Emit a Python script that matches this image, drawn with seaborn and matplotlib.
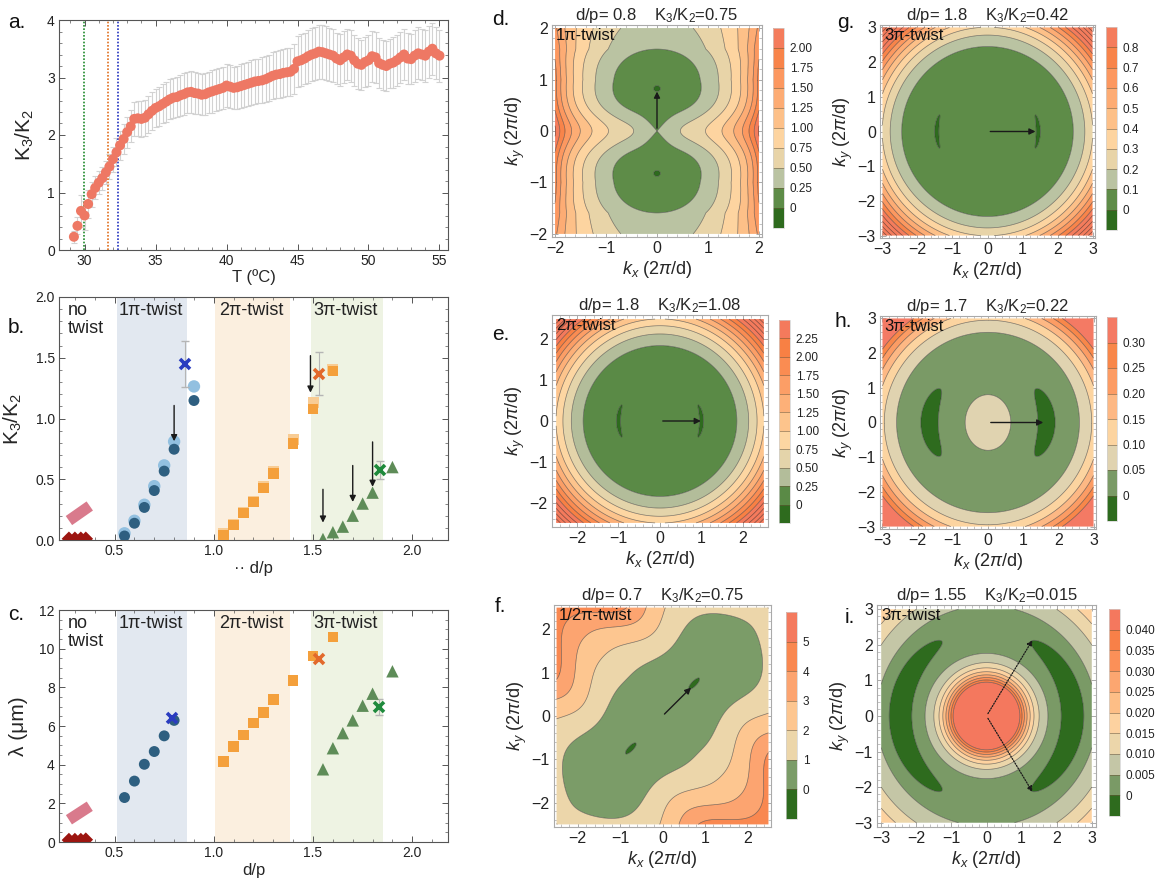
import numpy as np
import matplotlib
matplotlib.use("Agg")
import matplotlib.pyplot as plt
import seaborn as sns
from matplotlib.colors import ListedColormap, BoundaryNorm
from matplotlib.cm import ScalarMappable
from matplotlib.ticker import MultipleLocator, FuncFormatter

# ---------------- panel a : K3/K2 against temperature ----------------
T_first, T_step = 29.25, 0.25
k32_T = [0.23, 0.42, 0.68, 0.60,
         0.80, 0.97, 1.08, 1.17,
         1.25, 1.35, 1.45, 1.58,
         1.70, 1.82, 1.93, 2.05,
         2.15, 2.28, 2.29, 2.28,
         2.30, 2.36, 2.42, 2.47,
         2.50, 2.54, 2.58, 2.62,
         2.65, 2.66, 2.69, 2.71,
         2.74, 2.75, 2.73, 2.72,
         2.70, 2.71, 2.74, 2.76,
         2.78, 2.80, 2.82, 2.86,
         2.84, 2.82, 2.83, 2.85,
         2.87, 2.89, 2.91, 2.93,
         2.94, 2.95, 2.97, 3.00,
         3.03, 3.05, 3.06, 3.08,
         3.09, 3.10, 3.15, 3.28,
         3.30, 3.33, 3.37, 3.40,
         3.42, 3.45, 3.44, 3.42,
         3.40, 3.38, 3.33, 3.30,
         3.35, 3.40, 3.38, 3.30,
         3.24, 3.22, 3.27, 3.30,
         3.37, 3.35, 3.25, 3.22,
         3.20, 3.24, 3.26, 3.30,
         3.35, 3.40, 3.33, 3.32,
         3.38, 3.42, 3.40, 3.38,
         3.45, 3.50, 3.42, 3.38]
k32_T_err = [0.10, 0.15, 0.28, 0.25,
             0.25, 0.22, 0.20, 0.20,
             0.20, 0.20, 0.22, 0.22, 0.24, 0.25, 0.26, 0.27,
             0.28, 0.30, 0.30, 0.31, 0.31, 0.32, 0.33, 0.33,
             0.34, 0.34, 0.35, 0.35, 0.35, 0.35, 0.36, 0.36, 0.36, 0.36,
             0.36, 0.36, 0.36, 0.36, 0.36, 0.37, 0.37, 0.37, 0.37, 0.37,
             0.37, 0.37, 0.37, 0.38, 0.38, 0.38, 0.39, 0.39, 0.39, 0.40,
             0.40, 0.40, 0.41, 0.41, 0.41, 0.42, 0.42, 0.42, 0.43, 0.44,
             0.45, 0.45, 0.46, 0.46, 0.46, 0.47, 0.47, 0.47, 0.46, 0.46,
             0.45, 0.45, 0.45, 0.45, 0.45, 0.44, 0.44, 0.44, 0.44, 0.44,
             0.44, 0.44, 0.43, 0.43, 0.43, 0.43, 0.44, 0.44, 0.44, 0.44,
             0.44, 0.44, 0.45, 0.45, 0.45, 0.45, 0.45, 0.45, 0.45, 0.45]
vline_T = [29.95, 31.67, 32.37]
vline_colors = ["#1f8a2c", "#e0701e", "#2233c0"]

# ---------------- panels b, c : against d/p ----------------
band_spans = [(0.51, 0.865), (1.005, 1.385), (1.49, 1.85)]
band_colors = ["#e2e8f0", "#fbefdf", "#eef3e3"]
band_names = ["1\u03c0-twist", "2\u03c0-twist", "3\u03c0-twist"]
band_name_x = [0.685, 1.19, 1.665]

notwist_dp = [0.27, 0.30, 0.33, 0.355]
notwist_k = [0.01, 0.01, 0.01, 0.01]
notwist_lam = [0.10, 0.10, 0.10, 0.12]
pink_dp = [0.27, 0.375]
pink_k = [0.16, 0.28]
pink_lam = [1.15, 1.85]

dp_1pi = [0.55, 0.60, 0.65, 0.70, 0.75, 0.80, 0.90]
k_1pi_light = [0.055, 0.158, 0.29, 0.443, 0.614, 0.81, 1.264]
k_1pi = [0.033, 0.138, 0.268, 0.407, 0.567, 0.747, 1.148]
lam_1pi = [2.30, 3.15, 4.02, 4.68, 5.49, 6.29]

dp_2pi = [1.05, 1.10, 1.15, 1.20, 1.25, 1.30, 1.40, 1.50, 1.60]
k_2pi_light = [0.05, 0.13, 0.23, 0.32, 0.44, 0.56, 0.83, 1.13, 1.40]
k_2pi = [0.041, 0.124, 0.221, 0.313, 0.429, 0.545, 0.794, 1.079, 1.39]
lam_2pi = [4.16, 4.94, 5.54, 6.15, 6.70, 7.36, 8.36, 9.61, 10.6]

dp_3pi = [1.55, 1.60, 1.65, 1.70, 1.75, 1.80, 1.90]
k_3pi = [0.008, 0.064, 0.11, 0.20, 0.30, 0.39, 0.60]
lam_3pi = [3.76, 4.85, 5.63, 6.29, 7.05, 7.67, 8.83]

cross_colors = ["#2a3cc0", "#e2692c", "#1f8a3c"]
cross_dp_b = [0.853, 1.53, 1.835]
cross_k = [1.45, 1.37, 0.575]
cross_k_err = [0.19, 0.175, 0.075]
cross_dp_c = [0.79, 1.53, 1.83]
cross_lam = [6.40, 9.49, 6.98]
cross_lam_err = [0.0, 0.0, 0.40]

arrows_b = [(0.80, 1.13, 0.79), (1.487, 1.54, 1.19), (1.55, 0.44, 0.12),
            (1.70, 0.636, 0.29), (1.80, 0.83, 0.415)]

# ---------------- panels d-i : energy landscapes ----------------
maps = {
    "d": dict(dp="0.8", k="0.75", twist="1\u03c0-twist", half=2.0, lim=2.06,
              levels=np.arange(-0.25, 2.2501, 0.25), ticks=["0", "0.25", "0.50", "0.75", "1.00", "1.25", "1.50", "1.75", "2.00"],
              colors=["#2e6b1e", "#5e8c48", "#bac3a2", "#e8d4a8", "#fdd4a0", "#fdc088", "#fdac74", "#fc9860", "#f8844a", "#f47c5c"],
              arrow=[(0, 0), (0, 0.82)]),
    "e": dict(dp="1.8", k="1.08", twist="2\u03c0-twist", half=2.5, lim=2.6,
              levels=np.arange(-0.25, 2.5001, 0.25), ticks=["0", "0.25", "0.50", "0.75", "1.00", "1.25", "1.50", "1.75", "2.00", "2.25"],
              colors=["#2e6b1e", "#5a8a46", "#b3bd9a", "#e4d4aa", "#fdd6a2", "#fdc48c", "#fdb078", "#fc9e66", "#fa8c52", "#f88044", "#f47a5c"],
              arrow=[(0, 0), (1.05, 0)]),
    "f": dict(dp="0.7", k="0.75", twist="1/2\u03c0-twist", half=2.5, lim=2.56,
              levels=np.arange(-1, 6.01, 1.0), ticks=["0", "1", "2", "3", "4", "5"],
              colors=["#2e6b1e", "#7b9c68", "#ecd6aa", "#fdc690", "#fca470", "#f98850", "#f47a5e"],
              arrow=[(0, 0), (0.72, 0.70)]),
    "g": dict(dp="1.8", k="0.42", twist="3\u03c0-twist", half=3.0, lim=3.07,
              levels=np.arange(-0.1, 0.9001, 0.1), ticks=["0", "0.1", "0.2", "0.3", "0.4", "0.5", "0.6", "0.7", "0.8"],
              colors=["#2e6b1e", "#5e8c48", "#bac3a2", "#e8d4a8", "#fdd4a0", "#fdc088", "#fdac74", "#fc9860", "#f8844a", "#f47c5c"],
              arrow=[(0, 0), (1.45, 0)]),
    "h": dict(dp="1.7", k="0.22", twist="3\u03c0-twist", half=3.0, lim=3.07,
              levels=np.arange(-0.05, 0.3501, 0.05), ticks=["0", "0.05", "0.10", "0.15", "0.20", "0.25", "0.30"],
              colors=["#2e6b1e", "#7a9a66", "#e0d3b0", "#fcd4a0", "#fdb884", "#fc9c64", "#f8874a", "#f47a64"],
              arrow=[(0, 0), (1.65, 0)]),
    "i": dict(dp="1.55", k="0.015", twist="3\u03c0-twist", half=3.0, lim=3.12,
              levels=np.arange(-0.005, 0.04501, 0.005), ticks=["0", "0.005", "0.010", "0.015", "0.020", "0.025", "0.030", "0.035", "0.040"],
              colors=["#2e6b1e", "#7a9a66", "#c4c6a6", "#ecd6aa", "#fdd2a0", "#fdbe86", "#fca670", "#fb9058", "#f88048", "#f4785e"],
              arrow=None),
}


def softplus(x, s):
    return s * np.logaddexp(0.0, x / s)


def ring_landscape(kx, ky, base, r0, slope, rc, w, depth, n, bump=None):
    """Radial well with two crescent-shaped minima along kx."""
    r = np.hypot(kx, ky)
    th = np.arctan2(ky, kx)
    z = base + slope * softplus(r - r0, 0.08) ** 2
    z = z - depth * np.abs(np.cos(th)) ** n * np.exp(-((r - rc) / w) ** 2)
    if bump is not None:
        amp, sx, sy = bump
        z = z + amp * np.exp(-((kx / sx) ** 2 + (ky / sy) ** 2))
    return z


def landscape(key, kx, ky):
    if key == "d":
        ay = np.abs(ky)
        ys = np.sqrt(ky ** 2 + 0.04) - 0.2
        y0 = np.sqrt(0.82 ** 2 + 0.04) - 0.2
        t = (ys - y0) / 0.76
        outer = np.where(t < 1, t ** 2, 1 + (t - 1))
        well = np.where(ys < y0, ((y0 - ys) / y0) ** 2, outer)
        h = -0.0015 + 0.2515 * well
        ridge = 0.2 * np.exp(-(ky / 0.4) ** 2) * (1 - np.exp(-(kx / 0.3) ** 2))
        c = 0.33 - 0.1 * np.clip(ay - 1.0, 0, 1)
        q = 0.002 * (1 - 0.5 * np.clip((ay - 1.2) / 0.8, 0, 1))
        return h + c * kx ** 2 + ridge + q * kx ** 8
    if key == "e":
        return ring_landscape(kx, ky, 0.10, 1.4, 0.74, 1.0, 0.086, 0.14, 4)
    if key == "g":
        return ring_landscape(kx, ky, 0.05, 2.0, 0.247, 1.45, 0.094, 0.075, 7)
    if key == "h":
        return ring_landscape(kx, ky, 0.03, 2.2, 0.125, 1.66, 0.30, 0.06, 3.3, bump=(0.045, 0.72, 0.89))
    if key == "i":
        return ring_landscape(kx, ky, 0.002, 2.3, 0.0047, 2.47, 0.37, 0.006, 1.5, bump=(0.108, 0.93, 0.93))
    if key == "f":
        u = (kx + ky) / np.sqrt(2)
        v = (ky - kx) / np.sqrt(2)
        width = 1.3 + 0.2 * np.cos(2 * np.pi * u / 2.4)
        s = v / width
        du = np.sqrt(u ** 2 + 0.09) - np.sqrt(1.06 ** 2 + 0.09)
        along = 0.22 * du ** 2 + 0.02 * du ** 4 - 0.006
        across = 1.3 * ((s ** 2 + 0.04) ** 0.75 - 0.04 ** 0.75)
        return along + across


# ---------------- figure ----------------
sns.set_theme(style="ticks")
plt.rcParams["font.family"] = ["Liberation Sans", "DejaVu Sans"]
plt.rcParams["mathtext.fontset"] = "custom"
plt.rcParams["mathtext.rm"] = "Liberation Sans"
plt.rcParams["mathtext.it"] = "Liberation Sans:italic"
plt.rcParams["mathtext.bf"] = "Liberation Sans:bold"

W, H = 1163, 885
fig = plt.figure(figsize=(W / 100, H / 100), dpi=100)


def add_ax(l, t, r, b):
    return fig.add_axes([l / W, 1 - b / H, (r - l) / W, (b - t) / H])


def frame(ax, color="#555555", labelsize=10):
    for s in ax.spines.values():
        s.set_color(color)
        s.set_linewidth(0.8)
    ax.tick_params(which="both", direction="in", top=True, right=True, color=color,
                   labelsize=labelsize, labelcolor="#222222")
    ax.tick_params(which="major", length=4, width=0.7, pad=3)
    ax.tick_params(which="minor", length=2, width=0.5)


def letter(x, y, s):
    fig.text(x / W, 1 - y / H, s, fontsize=15, va="baseline", ha="left", color="#111111")


# panel a
ax = add_ax(59, 20, 448, 250)
T_vals = T_first + T_step * np.arange(len(k32_T))
ax.errorbar(T_vals, k32_T, yerr=k32_T_err, fmt="none", ecolor="#d2d2d2", elinewidth=0.8,
            capsize=2.5, capthick=0.8, zorder=1)
sns.scatterplot(x=T_vals, y=k32_T, ax=ax, color="#ee7864", s=52, edgecolor="none", zorder=3, legend=False)
for xv, c in zip(vline_T, vline_colors):
    ax.axvline(xv, color=c, ls=(0, (1, 1)), lw=1.2, zorder=2)
ax.set_xlim(28.2, 55.6)
ax.set_ylim(0, 4)
ax.xaxis.set_major_locator(MultipleLocator(5))
ax.xaxis.set_minor_locator(MultipleLocator(1))
ax.yaxis.set_major_locator(MultipleLocator(1))
ax.yaxis.set_minor_locator(MultipleLocator(0.2))
frame(ax)
ax.set_xlabel("T (\u00baC)", fontsize=12, labelpad=1)
ax.set_ylabel("K$_3$/K$_2$", fontsize=15, labelpad=8)
letter(8, 28, "a.")


def dp_panel(rect, ylim, ymajor, yminor, ylabel, label_y):
    ax = add_ax(*rect)
    for (x0, x1), c in zip(band_spans, band_colors):
        ax.axvspan(x0, x1, color=c, lw=0, zorder=0)
    for name, x in zip(band_names, band_name_x):
        ax.text(x, label_y, name, ha="center", va="top", fontsize=13, color="#222222")
    ax.text(0.265, label_y, "no\ntwist", ha="left", va="top", fontsize=13, color="#222222", linespacing=1.1)
    ax.set_xlim(0.22, 2.18)
    ax.set_ylim(*ylim)
    ax.xaxis.set_major_locator(MultipleLocator(0.5))
    ax.xaxis.set_minor_locator(MultipleLocator(0.1))
    ax.yaxis.set_major_locator(MultipleLocator(ymajor))
    ax.yaxis.set_minor_locator(MultipleLocator(yminor))
    frame(ax)
    ax.set_ylabel(ylabel, fontsize=15, labelpad=8)
    return ax


# panel b
ax = dp_panel((59, 297, 448, 540), (0, 2.0), 0.5, 0.1, "K$_3$/K$_2$", 1.96)
ax.plot(pink_dp, pink_k, color="#d97a8c", lw=8, solid_capstyle="butt", zorder=2)
sns.scatterplot(x=notwist_dp, y=notwist_k, ax=ax, marker="D", color="#9c1510", s=55, edgecolor="none", zorder=3, legend=False)
sns.scatterplot(x=dp_1pi, y=k_1pi_light, ax=ax, color="#92c0e0", s=80, edgecolor="none", zorder=3, legend=False)
sns.scatterplot(x=dp_1pi, y=k_1pi, ax=ax, color="#2e5f80", s=62, edgecolor="none", zorder=4, legend=False)
sns.scatterplot(x=dp_2pi, y=k_2pi_light, ax=ax, marker="s", color="#f8cc94", s=62, edgecolor="none", zorder=3, legend=False)
sns.scatterplot(x=dp_2pi, y=k_2pi, ax=ax, marker="s", color="#f4a03c", s=58, edgecolor="none", zorder=4, legend=False)
sns.scatterplot(x=dp_3pi, y=k_3pi, ax=ax, marker="^", color="#5e8c58", s=80, edgecolor="none", zorder=4, legend=False)
for x, y, e, c in zip(cross_dp_b, cross_k, cross_k_err, cross_colors):
    ax.errorbar([x], [y], yerr=[e], fmt="none", ecolor="#b5b5b5", elinewidth=0.8, capsize=3, zorder=3)
    ax.plot([x], [y], marker="x", ms=7, mew=2.6, color=c, zorder=5)
for x, y0, y1 in arrows_b:
    ax.annotate("", xy=(x, y1), xytext=(x, y0),
                arrowprops=dict(arrowstyle="-|>", color="k", lw=1.0, mutation_scale=9), zorder=6)
ax.set_xlabel("\u00b7\u00b7 d/p", fontsize=12, labelpad=2)
letter(8, 333, "b.")

# panel c
ax = dp_panel((59, 610, 448, 842), (0, 12), 2, 0.5, "\u03bb (\u03bcm)", 11.75)
ax.plot(pink_dp, pink_lam, color="#d97a8c", lw=8, solid_capstyle="butt", zorder=2)
sns.scatterplot(x=notwist_dp, y=notwist_lam, ax=ax, marker="D", color="#9c1510", s=55, edgecolor="none", zorder=3, legend=False)
sns.scatterplot(x=dp_1pi[:len(lam_1pi)], y=lam_1pi, ax=ax, color="#2e5f80", s=62, edgecolor="none", zorder=4, legend=False)
sns.scatterplot(x=dp_2pi, y=lam_2pi, ax=ax, marker="s", color="#f4a03c", s=58, edgecolor="none", zorder=4, legend=False)
sns.scatterplot(x=dp_3pi, y=lam_3pi, ax=ax, marker="^", color="#5e8c58", s=80, edgecolor="none", zorder=4, legend=False)
for x, y, e, c in zip(cross_dp_c, cross_lam, cross_lam_err, cross_colors):
    if e > 0:
        ax.errorbar([x], [y], yerr=[e], fmt="none", ecolor="#b5b5b5", elinewidth=0.8, capsize=3, zorder=3)
    ax.plot([x], [y], marker="x", ms=7, mew=2.6, color=c, zorder=5)
ax.set_xlabel("d/p", fontsize=12, labelpad=2)
letter(8, 620, "c.")

# contour panels
panel_rects = {
    "d": ((552, 25, 762, 237), (773, 28, 784, 228), (492, 25)),
    "e": ((552, 315, 768, 527), (779, 320, 790, 523), (492, 340)),
    "f": ((554, 605, 771, 827), (786, 612, 797, 819), (495, 612)),
    "g": ((880, 25, 1095, 238), (1106, 27, 1117, 230), (837, 28)),
    "h": ((880, 316, 1096, 529), (1107, 317, 1117, 521), (835, 327)),
    "i": ((877, 605, 1096, 827), (1109, 609, 1120, 816), (845, 623)),
}
extend_lines = {"d": True, "e": True, "f": True, "g": True, "h": False, "i": False}
int_fmt = FuncFormatter(lambda v, p: f"{v:.0f}".replace("-", "\u2212"))

for key, spec in maps.items():
    rect, cbrect, lpos = panel_rects[key]
    ax = add_ax(*rect)
    k = np.linspace(-spec["half"], spec["half"], 501)
    KX, KY = np.meshgrid(k, k)
    Z = landscape(key, KX, KY)
    lv = spec["levels"]
    step = lv[1] - lv[0]
    Zc = np.clip(Z, lv[0] + 1e-9 * step, lv[-1] - 1e-6 * step)
    ax.contourf(KX, KY, Zc, levels=lv, colors=spec["colors"], antialiased=True)
    top = Z.max() if extend_lines[key] else lv[-1] - 0.5 * step
    line_lv = np.arange(lv[1], top, step)
    ax.contour(KX, KY, Z, levels=line_lv, colors="#2a2a2a", linewidths=0.5, alpha=0.6)
    ax.set_xlim(-spec["lim"], spec["lim"])
    ax.set_ylim(-spec["lim"], spec["lim"])
    ax.xaxis.set_major_locator(MultipleLocator(1))
    ax.yaxis.set_major_locator(MultipleLocator(1))
    ax.xaxis.set_minor_locator(MultipleLocator(0.2))
    ax.yaxis.set_minor_locator(MultipleLocator(0.2))
    frame(ax, color="#aaaaaa", labelsize=11.5)
    ax.xaxis.set_major_formatter(int_fmt)
    ax.yaxis.set_major_formatter(int_fmt)
    ax.set_xlabel(r"$k_x$ (2$\pi$/d)", fontsize=13, labelpad=2)
    ax.set_ylabel(r"$k_y$ (2$\pi$/d)", fontsize=13, labelpad=2)
    ax.set_title(f"d/p= {spec['dp']}    K$_3$/K$_2$={spec['k']}", fontsize=12, pad=3)
    ax.text(0.02, 0.985, spec["twist"], transform=ax.transAxes, ha="left", va="top", fontsize=12, color="#111111")
    if spec["arrow"] is not None:
        (x0, y0), (x1, y1) = spec["arrow"]
        ax.annotate("", xy=(x1, y1), xytext=(x0, y0),
                    arrowprops=dict(arrowstyle="-|>", color="k", lw=1.0, mutation_scale=9))
    else:
        for yy in (2.2, -2.2):
            ax.annotate("", xy=(1.35, yy), xytext=(0, 0),
                        arrowprops=dict(arrowstyle="-|>", color="k", lw=0.9, ls=(0, (1, 1.2)), mutation_scale=8))
    letter(lpos[0], lpos[1], key + ".")

    cax = add_ax(*cbrect)
    norm = BoundaryNorm(lv, len(spec["colors"]))
    sm = ScalarMappable(norm=norm, cmap=ListedColormap(spec["colors"]))
    cb = fig.colorbar(sm, cax=cax, ticks=lv[1:-1], drawedges=True)
    cb.set_ticklabels(spec["ticks"])
    cb.minorticks_off()
    cb.dividers.set_color("#6b5238")
    cb.dividers.set_linewidth(0.6)
    cb.dividers.set_alpha(0.6)
    cb.outline.set_edgecolor("#d0d0d0")
    cb.outline.set_linewidth(0.5)
    cax.tick_params(which="both", length=0, labelsize=8.5, pad=4, labelcolor="#222222")

fig.savefig("out.png", dpi=100, facecolor="white")
